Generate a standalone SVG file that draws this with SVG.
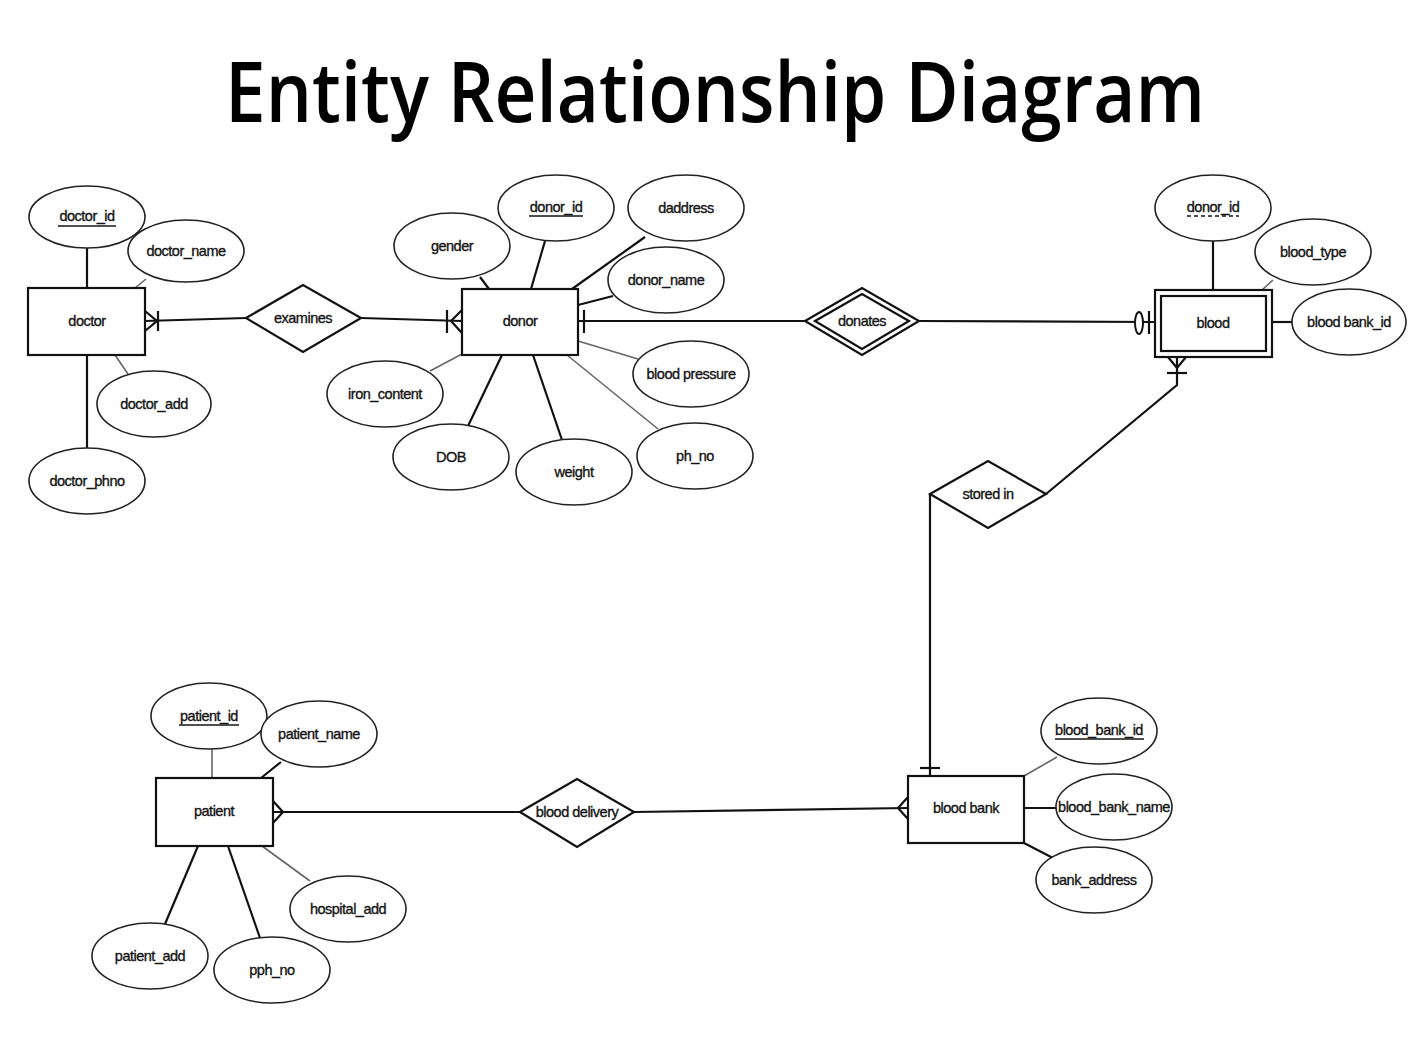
<svg xmlns="http://www.w3.org/2000/svg" width="1428" height="1041" viewBox="0 0 1428 1041">
  <style>
    .bg { fill: #ffffff; }
    .title { font-family: "Open Sans", "Liberation Sans", sans-serif; font-size: 84px; font-weight: 600; fill: #000; }
    .lbl { font-family: "Liberation Sans", Arial, sans-serif; font-size: 14.5px; fill: #151515; text-anchor: middle; dominant-baseline: central; letter-spacing: -0.5px; stroke: #151515; stroke-width: 0.35; }
    .ent { fill: #fff; stroke: #111; stroke-width: 2.2; }
    .attr { fill: #fff; stroke: #222; stroke-width: 1.6; }
    .rel { fill: #fff; stroke: #111; stroke-width: 2.2; }
    .ln { stroke: #111; stroke-width: 2.2; fill: none; }
    .lt { stroke: #666; stroke-width: 1.6; fill: none; }
    .ul { stroke: #151515; stroke-width: 1.6; }
  </style>

  <rect class="bg" x="0" y="0" width="1428" height="1041"/>

  <text class="title" x="715" y="122" text-anchor="middle" textLength="980" lengthAdjust="spacingAndGlyphs">Entity Relationship Diagram</text>

  <!-- connectors: attribute links and relationship lines with cardinality marks -->
  <g id="connectors">
    <!-- doctor attributes -->
    <line class="ln" x1="87" y1="247" x2="87" y2="288"/>
    <line class="lt" x1="135" y1="288" x2="146" y2="279"/>
    <line class="lt" x1="115" y1="355" x2="128" y2="374"/>
    <line class="ln" x1="87" y1="355" x2="87" y2="448"/>
    <!-- donor attributes -->
    <line class="ln" x1="480" y1="277" x2="489" y2="289"/>
    <line class="ln" x1="545" y1="241" x2="531" y2="289"/>
    <line class="ln" x1="645" y1="237" x2="572" y2="289"/>
    <line class="ln" x1="613" y1="296" x2="578" y2="305"/>
    <line class="lt" x1="578" y1="341" x2="638" y2="359"/>
    <line class="lt" x1="567" y1="355" x2="658" y2="429"/>
    <line class="ln" x1="533" y1="355" x2="562" y2="440"/>
    <line class="ln" x1="502" y1="355" x2="468" y2="426"/>
    <line class="lt" x1="462" y1="354" x2="430" y2="371"/>
    <!-- blood attributes -->
    <line class="ln" x1="1213" y1="241" x2="1213" y2="290"/>
    <line class="lt" x1="1273" y1="280" x2="1262" y2="290"/>
    <line class="ln" x1="1272" y1="322" x2="1292" y2="322"/>
    <!-- blood bank attributes -->
    <line class="lt" x1="1024" y1="776" x2="1057" y2="757"/>
    <line class="ln" x1="1024" y1="808" x2="1057" y2="808"/>
    <line class="ln" x1="1024" y1="843" x2="1053" y2="858"/>
    <!-- patient attributes -->
    <line class="lt" x1="212" y1="749" x2="212" y2="778"/>
    <line class="ln" x1="281" y1="762" x2="261" y2="778"/>
    <line class="lt" x1="262" y1="846" x2="310" y2="881"/>
    <line class="ln" x1="228" y1="846" x2="260" y2="938"/>
    <line class="ln" x1="198" y1="846" x2="165" y2="924"/>

    <!-- doctor - examines -->
    <line class="ln" x1="145" y1="321" x2="246" y2="318"/>
    <path class="ln" d="M145,311 L157,321 L145,331"/>
    <line class="ln" x1="158" y1="311" x2="158" y2="331"/>
    <!-- examines - donor -->
    <line class="ln" x1="361" y1="318" x2="462" y2="321"/>
    <path class="ln" d="M462,310 L451,321 L462,333"/>
    <line class="ln" x1="447" y1="310" x2="447" y2="333"/>
    <!-- donor - donates -->
    <line class="ln" x1="578" y1="321" x2="805" y2="321"/>
    <line class="ln" x1="584" y1="310" x2="584" y2="333"/>
    <!-- donates - blood -->
    <line class="ln" x1="919" y1="321" x2="1155" y2="322"/>
    <ellipse cx="1139" cy="323" rx="4" ry="11" fill="#fff" stroke="#111" stroke-width="2"/>
    <line class="ln" x1="1149" y1="311" x2="1149" y2="334"/>
    <!-- blood - stored in -->
    <polyline class="ln" points="1177,357 1177,385 1046,494"/>
    <path class="ln" d="M1168,357 L1177,368 L1186,357"/>
    <line class="ln" x1="1167" y1="373" x2="1187" y2="373"/>
    <!-- stored in - blood bank -->
    <line class="ln" x1="930" y1="494" x2="930" y2="776"/>
    <line class="ln" x1="920" y1="768" x2="940" y2="768"/>
    <!-- blood bank - blood delivery -->
    <line class="ln" x1="634" y1="812" x2="908" y2="808"/>
    <path class="ln" d="M908,797 L898,808 L908,819"/>
    <!-- blood delivery - patient -->
    <line class="ln" x1="273" y1="812" x2="520" y2="812"/>
    <path class="ln" d="M273,801 L283,812 L273,823"/>
  </g>

  <!-- entities -->
  <g id="doctor">
    <rect class="ent" x="28" y="288" width="117" height="67"/>
    <text class="lbl" x="87" y="321">doctor</text>
  </g>
  <g id="donor">
    <rect class="ent" x="462" y="289" width="116" height="66"/>
    <text class="lbl" x="520" y="321">donor</text>
  </g>
  <g id="blood">
    <rect class="ent" x="1155" y="290" width="117" height="67"/>
    <rect class="ent" x="1161" y="296" width="105" height="55"/>
    <text class="lbl" x="1213" y="323">blood</text>
  </g>
  <g id="blood-bank">
    <rect class="ent" x="908" y="776" width="116" height="67"/>
    <text class="lbl" x="966" y="808">blood bank</text>
  </g>
  <g id="patient">
    <rect class="ent" x="156" y="778" width="117" height="68"/>
    <text class="lbl" x="214" y="811">patient</text>
  </g>

  <!-- relationships -->
  <g id="examines">
    <polygon class="rel" points="246,318 303,285 361,318 303,352"/>
    <text class="lbl" x="303" y="318">examines</text>
  </g>
  <g id="donates">
    <polygon class="rel" points="805,321 862,288 919,321 862,355"/>
    <polygon class="rel" points="815,321 862,294 909,321 862,349"/>
    <text class="lbl" x="862" y="321">donates</text>
  </g>
  <g id="stored-in">
    <polygon class="rel" points="930,494 988,461 1046,494 988,528"/>
    <text class="lbl" x="988" y="494">stored in</text>
  </g>
  <g id="blood-delivery">
    <polygon class="rel" points="520,812 577,779 634,812 577,847"/>
    <text class="lbl" x="577" y="812">blood delivery</text>
  </g>

  <!-- doctor attributes -->
  <g id="attr-doctor_id">
    <ellipse class="attr" cx="87" cy="217" rx="58" ry="31"/>
    <text class="lbl" x="87" y="216">doctor_id</text>
    <line class="ul" x1="58" y1="226" x2="116" y2="226"/>
  </g>
  <g id="attr-doctor_name">
    <ellipse class="attr" cx="186" cy="251" rx="58" ry="31"/>
    <text class="lbl" x="186" y="251">doctor_name</text>
  </g>
  <g id="attr-doctor_add">
    <ellipse class="attr" cx="154" cy="404" rx="57" ry="33"/>
    <text class="lbl" x="154" y="404">doctor_add</text>
  </g>
  <g id="attr-doctor_phno">
    <ellipse class="attr" cx="87" cy="481" rx="58" ry="33"/>
    <text class="lbl" x="87" y="481">doctor_phno</text>
  </g>

  <!-- donor attributes -->
  <g id="attr-gender">
    <ellipse class="attr" cx="452" cy="246" rx="58" ry="33"/>
    <text class="lbl" x="452" y="246">gender</text>
  </g>
  <g id="attr-donor_id">
    <ellipse class="attr" cx="556" cy="208" rx="58" ry="33"/>
    <text class="lbl" x="556" y="207">donor_id</text>
    <line class="ul" x1="529" y1="216" x2="583" y2="216"/>
  </g>
  <g id="attr-daddress">
    <ellipse class="attr" cx="686" cy="208" rx="58" ry="33"/>
    <text class="lbl" x="686" y="208">daddress</text>
  </g>
  <g id="attr-donor_name">
    <ellipse class="attr" cx="666" cy="280" rx="58" ry="33"/>
    <text class="lbl" x="666" y="280">donor_name</text>
  </g>
  <g id="attr-blood_pressure">
    <ellipse class="attr" cx="691" cy="374" rx="58" ry="33"/>
    <text class="lbl" x="691" y="374">blood pressure</text>
  </g>
  <g id="attr-ph_no">
    <ellipse class="attr" cx="695" cy="456" rx="58" ry="33"/>
    <text class="lbl" x="695" y="456">ph_no</text>
  </g>
  <g id="attr-weight">
    <ellipse class="attr" cx="574" cy="472" rx="58" ry="33"/>
    <text class="lbl" x="574" y="472">weight</text>
  </g>
  <g id="attr-DOB">
    <ellipse class="attr" cx="451" cy="457" rx="58" ry="33"/>
    <text class="lbl" x="451" y="457">DOB</text>
  </g>
  <g id="attr-iron_content">
    <ellipse class="attr" cx="385" cy="394" rx="58" ry="33"/>
    <text class="lbl" x="385" y="394">iron_content</text>
  </g>

  <!-- blood attributes -->
  <g id="attr-blood_donor_id">
    <ellipse class="attr" cx="1213" cy="208" rx="58" ry="33"/>
    <text class="lbl" x="1213" y="207">donor_id</text>
    <line class="ul" x1="1187" y1="216" x2="1239" y2="216" stroke-dasharray="4,3"/>
  </g>
  <g id="attr-blood_type">
    <ellipse class="attr" cx="1313" cy="252" rx="58" ry="33"/>
    <text class="lbl" x="1313" y="252">blood_type</text>
  </g>
  <g id="attr-blood_bank_id_fk">
    <ellipse class="attr" cx="1349" cy="322" rx="57" ry="33"/>
    <text class="lbl" x="1349" y="322">blood bank_id</text>
  </g>

  <!-- blood bank attributes -->
  <g id="attr-blood_bank_id">
    <ellipse class="attr" cx="1099" cy="731" rx="58" ry="33"/>
    <text class="lbl" x="1099" y="730">blood_bank_id</text>
    <line class="ul" x1="1055" y1="739" x2="1144" y2="739"/>
  </g>
  <g id="attr-blood_bank_name">
    <ellipse class="attr" cx="1114" cy="807" rx="58" ry="33"/>
    <text class="lbl" x="1114" y="807">blood_bank_name</text>
  </g>
  <g id="attr-bank_address">
    <ellipse class="attr" cx="1094" cy="880" rx="58" ry="33"/>
    <text class="lbl" x="1094" y="880">bank_address</text>
  </g>

  <!-- patient attributes -->
  <g id="attr-patient_id">
    <ellipse class="attr" cx="209" cy="716" rx="58" ry="33"/>
    <text class="lbl" x="209" y="716">patient_id</text>
    <line class="ul" x1="179" y1="725" x2="239" y2="725"/>
  </g>
  <g id="attr-patient_name">
    <ellipse class="attr" cx="319" cy="734" rx="58" ry="33"/>
    <text class="lbl" x="319" y="734">patient_name</text>
  </g>
  <g id="attr-hospital_add">
    <ellipse class="attr" cx="348" cy="909" rx="58" ry="33"/>
    <text class="lbl" x="348" y="909">hospital_add</text>
  </g>
  <g id="attr-pph_no">
    <ellipse class="attr" cx="272" cy="970" rx="58" ry="33"/>
    <text class="lbl" x="272" y="970">pph_no</text>
  </g>
  <g id="attr-patient_add">
    <ellipse class="attr" cx="150" cy="956" rx="58" ry="33"/>
    <text class="lbl" x="150" y="956">patient_add</text>
  </g>
</svg>
